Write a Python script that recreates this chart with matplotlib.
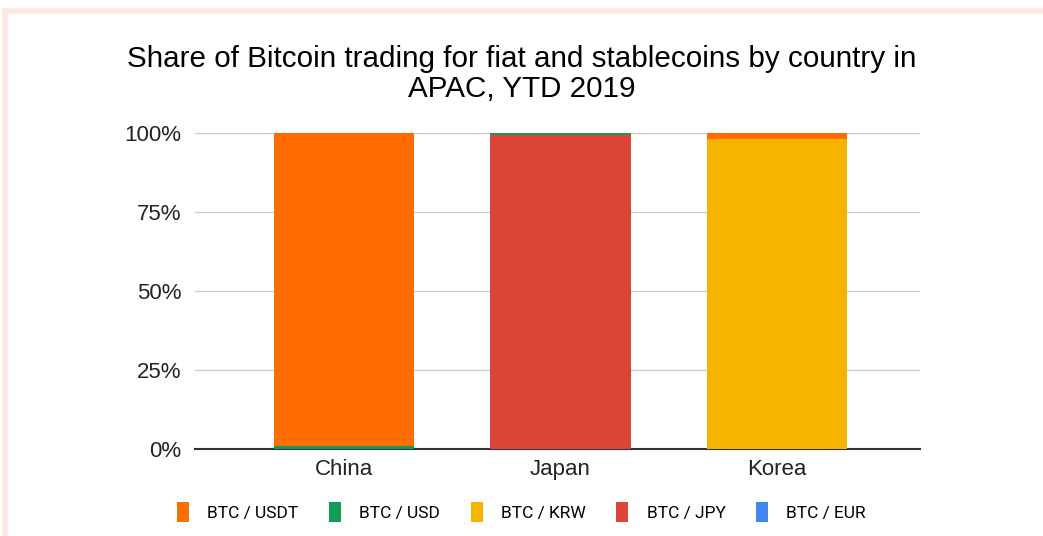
import matplotlib.pyplot as plt
from matplotlib.patches import Patch, Rectangle

countries = ['China', 'Japan', 'Korea']
pairs = ['BTC / USDT', 'BTC / USD', 'BTC / KRW', 'BTC / JPY', 'BTC / EUR']
colors = {'BTC / USDT': '#ff6d01', 'BTC / USD': '#0f9d58', 'BTC / KRW': '#f4b400',
          'BTC / JPY': '#db4437', 'BTC / EUR': '#4285f4'}

# share per country (fraction of 1)
usdt = [0.991, 0.0, 0.018]
usd = [0.009, 0.006, 0.0]
krw = [0.0, 0.0, 0.982]
jpy = [0.0, 0.994, 0.0]
eur = [0.0, 0.0, 0.0]

# stacking order, bottom to top
stack = [('BTC / JPY', jpy), ('BTC / USD', usd), ('BTC / KRW', krw),
         ('BTC / USDT', usdt), ('BTC / EUR', eur)]

fig = plt.figure(figsize=(10.43, 5.36), dpi=100)
ax = fig.add_axes([0.187, 0.1623, 0.695, 0.5896])

x = list(range(len(countries)))
bottom = [0.0] * len(countries)
for name, vals in stack:
    ax.bar(x, vals, width=0.647, bottom=bottom, color=colors[name], linewidth=0, zorder=3)
    bottom = [b + v for b, v in zip(bottom, vals)]

ax.set_xlim(-0.688, 2.66)
ax.set_ylim(0, 1)
ax.set_yticks([0, 0.25, 0.5, 0.75, 1.0])
ax.set_yticklabels(['0%', '25%', '50%', '75%', '100%'], fontsize=16, family='Liberation Sans')
ax.set_xticks(x)
ax.set_xticklabels(countries, fontsize=16, family='Liberation Sans')
ax.tick_params(axis='both', length=0, colors='#222222')
ax.tick_params(axis='y', pad=10)
ax.tick_params(axis='x', pad=7)
ax.grid(axis='y', color='#cccccc', linewidth=1, zorder=0)
for s in ['top', 'right', 'left']:
    ax.spines[s].set_visible(False)
ax.spines['bottom'].set_color('#333333')
ax.spines['bottom'].set_linewidth(1.5)
ax.spines['bottom'].set_zorder(2)

fig.text(0.5, 0.862, 'Share of Bitcoin trading for fiat and stablecoins by country in\nAPAC, YTD 2019',
         ha='center', va='center', fontsize=21.3, family='Liberation Sans', linespacing=1.08,
         color='#000000')

handles = [Patch(facecolor=colors[p], edgecolor='none') for p in pairs]
fig.legend(handles, pairs, loc='center', bbox_to_anchor=(0.5, 0.045), ncol=5, frameon=False,
           prop={'family': 'Roboto', 'size': 12.5}, handlelength=0.7, handleheight=1.4,
           columnspacing=1.75, handletextpad=1.05)

# light frame on top and left
fig.add_artist(Rectangle((5 / 1043, -0.1), 1.2, (536 - 11) / 536 + 0.1, transform=fig.transFigure,
                         fill=False, edgecolor='#fde8df', linewidth=4))

fig.savefig('out.png', dpi=100)
